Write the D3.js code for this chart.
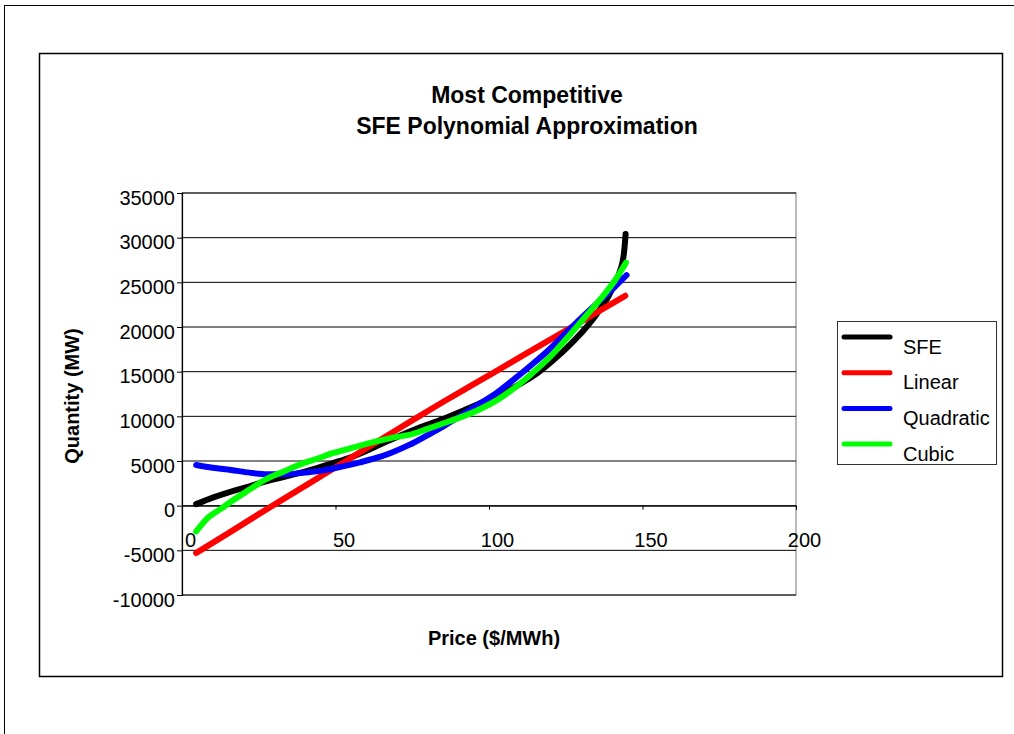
<!DOCTYPE html>
<html>
<head>
<meta charset="utf-8">
<script src="https://cdn.jsdelivr.net/npm/d3@7/dist/d3.min.js"></script>
<style>
  html, body { margin: 0; padding: 0; background: #fff; }
  svg { display: block; font-family: "Liberation Sans", Arial, sans-serif; }
</style>
</head>
<body>
<svg id="chart" width="1014" height="734"></svg>
<script>
// ---- Data ----
const chartTitle = ["Most Competitive", "SFE Polynomial Approximation"];
const xTitle = "Price ($/MWh)";
const yTitle = "Quantity (MW)";
const seriesNames = ["SFE", "Linear", "Quadratic", "Cubic"];
const seriesColors = ["#000000", "#ff0000", "#0000ff", "#00ff00"];
const xTicks = [0, 50, 100, 150, 200];
const yTicks = [-10000, -5000, 0, 5000, 10000, 15000, 20000, 25000, 30000, 35000];

const sfePrice = [4.6, 10, 16, 22, 27, 33, 38, 44, 49, 55, 63, 70, 77, 85, 92, 98, 104, 110, 116, 121, 126, 131, 135, 139, 141, 142.5, 143.5, 144, 144.3, 144.5];
const sfeQty   = [170, 900, 1580, 2150, 2700, 3200, 3640, 4200, 4750, 5420, 6600, 7700, 8700, 9700, 10700, 11600, 12500, 13600, 14900, 16300, 17900, 19700, 21400, 23500, 24900, 26100, 27300, 28400, 29500, 30400];

const linPrice = [4.6, 15, 25, 35, 45, 55, 65, 75, 85, 95, 105, 115, 125, 135, 144.4];
const linQty   = [-5300, -3100, -950, 1150, 3250, 5350, 7450, 9550, 11600, 13600, 15600, 17600, 19600, 21600, 23500];

const quadPrice = [4.6, 10, 16, 22, 28, 34, 40, 46, 52, 58, 63, 68, 74, 80, 85, 90, 96, 102, 108, 114, 120, 125, 130, 136, 141, 144.8];
const quadQty   = [4560, 4250, 4000, 3700, 3520, 3520, 3700, 3950, 4370, 4850, 5310, 5900, 6800, 7900, 8850, 9900, 11200, 12500, 14100, 15800, 17600, 19300, 21000, 22900, 24500, 25800];

const cubPrice = [4.6, 8, 13, 16, 22, 27, 33, 38, 44, 49, 55, 63, 70, 74, 80, 85, 90, 97, 103, 108, 114, 120, 125, 130, 136, 141, 144.6];
const cubQty   = [-2890, -1500, -280, 460, 1800, 2890, 3800, 4560, 5250, 5870, 6430, 7170, 7700, 7920, 8600, 9200, 9800, 10800, 11900, 13100, 14800, 16700, 18600, 20600, 23000, 25200, 27200];

const seriesPrices = [sfePrice, linPrice, quadPrice, cubPrice];
const seriesQtys = [sfeQty, linQty, quadQty, cubQty];

// ---- Layout ----
const svg = d3.select("#chart");
const plot = { left: 182, right: 796, top: 193, bottom: 595 };

const x = d3.scaleLinear().domain([0, 200]).range([plot.left, plot.right]);
const y = d3.scaleLinear().domain([-10000, 35000]).range([plot.bottom, plot.top]);
const fmt = d => String(d);

// outer frame
svg.append("rect").attr("x", 4.5).attr("y", 5.5).attr("width", 1020).attr("height", 740)
  .attr("fill", "none").attr("stroke", "#000").attr("stroke-width", 1);
// chart area frame
svg.append("rect").attr("x", 39.5).attr("y", 53.5).attr("width", 963).attr("height", 623)
  .attr("fill", "#fff").attr("stroke", "#000").attr("stroke-width", 1.5);

// plot area border
svg.append("rect").attr("x", plot.left).attr("y", plot.top)
  .attr("width", plot.right - plot.left).attr("height", plot.bottom - plot.top)
  .attr("fill", "none").attr("stroke", "#8c8c8c").attr("stroke-width", 1.2);

// gridlines
svg.append("g").selectAll("line").data(yTicks).join("line")
  .attr("x1", plot.left).attr("x2", plot.right)
  .attr("y1", d => y(d)).attr("y2", d => y(d))
  .attr("stroke", "#000").attr("stroke-width", 1);

// y axis
const yAxis = d3.axisLeft(y).tickValues(yTicks).tickSize(5).tickFormat(fmt);
const gy = svg.append("g").attr("transform", `translate(${plot.left},0)`).call(yAxis);
gy.select(".domain").attr("stroke", "#000").attr("stroke-width", 1.2);
gy.selectAll(".tick line").attr("stroke", "#000");
gy.selectAll(".tick text").attr("font-size", 20).attr("fill", "#000")
  .attr("font-family", "'Liberation Sans', Arial, sans-serif")
  .attr("x", -7).attr("dy", "0.55em");

// x axis on zero line
const xAxis = d3.axisBottom(x).tickValues(xTicks).tickSize(4).tickFormat(fmt);
const gx = svg.append("g").attr("transform", `translate(0,${y(0)})`).call(xAxis);
gx.select(".domain").attr("stroke", "#000").attr("stroke-width", 1);
gx.selectAll(".tick line").attr("stroke", "#000");
gx.selectAll(".tick text").attr("font-size", 20).attr("fill", "#000")
  .attr("font-family", "'Liberation Sans', Arial, sans-serif")
  .attr("dx", 8).attr("y", 27).attr("dy", "0.71em");

// series
const line = d3.line().x(d => x(d[0])).y(d => y(d[1])).curve(d3.curveMonotoneX);
seriesNames.forEach((name, i) => {
  const pts = seriesPrices[i].map((p, k) => [p, seriesQtys[i][k]]);
  svg.append("path").datum(pts)
    .attr("d", line)
    .attr("fill", "none")
    .attr("stroke", seriesColors[i])
    .attr("stroke-width", 6)
    .attr("stroke-linecap", "round")
    .attr("stroke-linejoin", "round");
});

// title
svg.append("text").attr("x", 527).attr("y", 103).attr("text-anchor", "middle")
  .attr("font-size", 23).attr("font-weight", "bold").text(chartTitle[0]);
svg.append("text").attr("x", 527).attr("y", 134).attr("text-anchor", "middle")
  .attr("font-size", 23).attr("font-weight", "bold").text(chartTitle[1]);

// axis titles
svg.append("text").attr("x", 494).attr("y", 645).attr("text-anchor", "middle")
  .attr("font-size", 20).attr("font-weight", "bold").text(xTitle);
svg.append("text").attr("transform", "translate(79,396) rotate(-90)").attr("text-anchor", "middle")
  .attr("font-size", 20).attr("font-weight", "bold").text(yTitle);

// legend
const lg = svg.append("g");
lg.append("rect").attr("x", 837.5).attr("y", 321.5).attr("width", 159).attr("height", 143)
  .attr("fill", "#fff").attr("stroke", "#333").attr("stroke-width", 1);
seriesNames.forEach((name, i) => {
  const ly = 337 + i * 35.7;
  lg.append("line").attr("x1", 844).attr("x2", 890).attr("y1", ly).attr("y2", ly)
    .attr("stroke", seriesColors[i]).attr("stroke-width", 5).attr("stroke-linecap", "round");
  lg.append("text").attr("x", 903).attr("y", ly + 16.5).attr("font-size", 20).text(name);
});
</script>
</body>
</html>
